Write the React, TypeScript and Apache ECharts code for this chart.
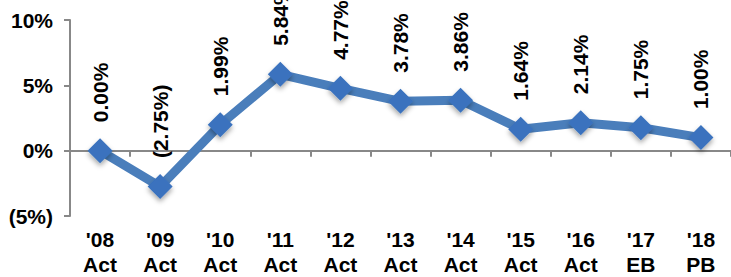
import React, { useEffect, useRef } from "react";
import * as echarts from "echarts";

const categories = ["'08\nAct", "'09\nAct", "'10\nAct", "'11\nAct", "'12\nAct", "'13\nAct", "'14\nAct", "'15\nAct", "'16\nAct", "'17\nEB", "'18\nPB"];
const values = [0.0, -2.75, 1.99, 5.84, 4.77, 3.78, 3.86, 1.64, 2.14, 1.75, 1.0];
const yTicks = { min: -5, max: 10, interval: 5 };

const fmtPct = (v: number, digits: number) => {
  const s = Math.abs(v).toFixed(digits) + "%";
  return v < 0 ? "(" + s + ")" : s;
};

export default function App() {
  const ref = useRef<HTMLDivElement>(null);
  useEffect(() => {
    if (!ref.current) return;
    const chart = echarts.init(ref.current, null, { renderer: "svg" });
    const font = "'Liberation Sans', Arial, sans-serif";
    chart.setOption({
      animation: false,
      grid: { left: 70, right: 0, top: 20, bottom: 57, containLabel: false },
      xAxis: {
        type: "category",
        data: categories,
        boundaryGap: true,
        axisLine: { lineStyle: { color: "#888888", width: 2 } },
        axisTick: { show: true, length: 6, lineStyle: { color: "#888888", width: 2 } },
        axisLabel: {
          color: "#000",
          fontFamily: font,
          fontWeight: "bold",
          fontSize: 21,
          lineHeight: 25,
          margin: 11,
          interval: 0,
        },
      },
      yAxis: {
        type: "value",
        min: yTicks.min,
        max: yTicks.max,
        interval: yTicks.interval,
        splitLine: { show: false },
        axisLine: { show: true, lineStyle: { color: "#888888", width: 2 } },
        axisTick: { show: true, length: 6, lineStyle: { color: "#888888", width: 2 } },
        axisLabel: {
          color: "#000",
          fontFamily: font,
          fontWeight: "bold",
          fontSize: 21,
          margin: 17,
          formatter: (v: number) => fmtPct(v, 0),
        },
      },
      series: [
        {
          type: "line",
          data: values,
          symbol: "diamond",
          symbolSize: 25,
          lineStyle: { color: "#4a7ebb", width: 9 },
          itemStyle: {
            color: "#3a72be",
            shadowColor: "rgba(0,0,0,0.35)",
            shadowBlur: 5,
            shadowOffsetY: 3,
          },
          label: {
            show: true,
            position: "top",
            rotate: 90,
            align: "left",
            verticalAlign: "middle",
            distance: 16,
            color: "#000",
            fontFamily: font,
            fontWeight: "bold",
            fontSize: 21,
            formatter: (p: any) => fmtPct(p.value, 2),
          },
        },
      ],
    });
    return () => chart.dispose();
  }, []);
  return <div ref={ref} style={{ width: 731, height: 277, position: "absolute", left: 0, top: 0 }} />;
}
